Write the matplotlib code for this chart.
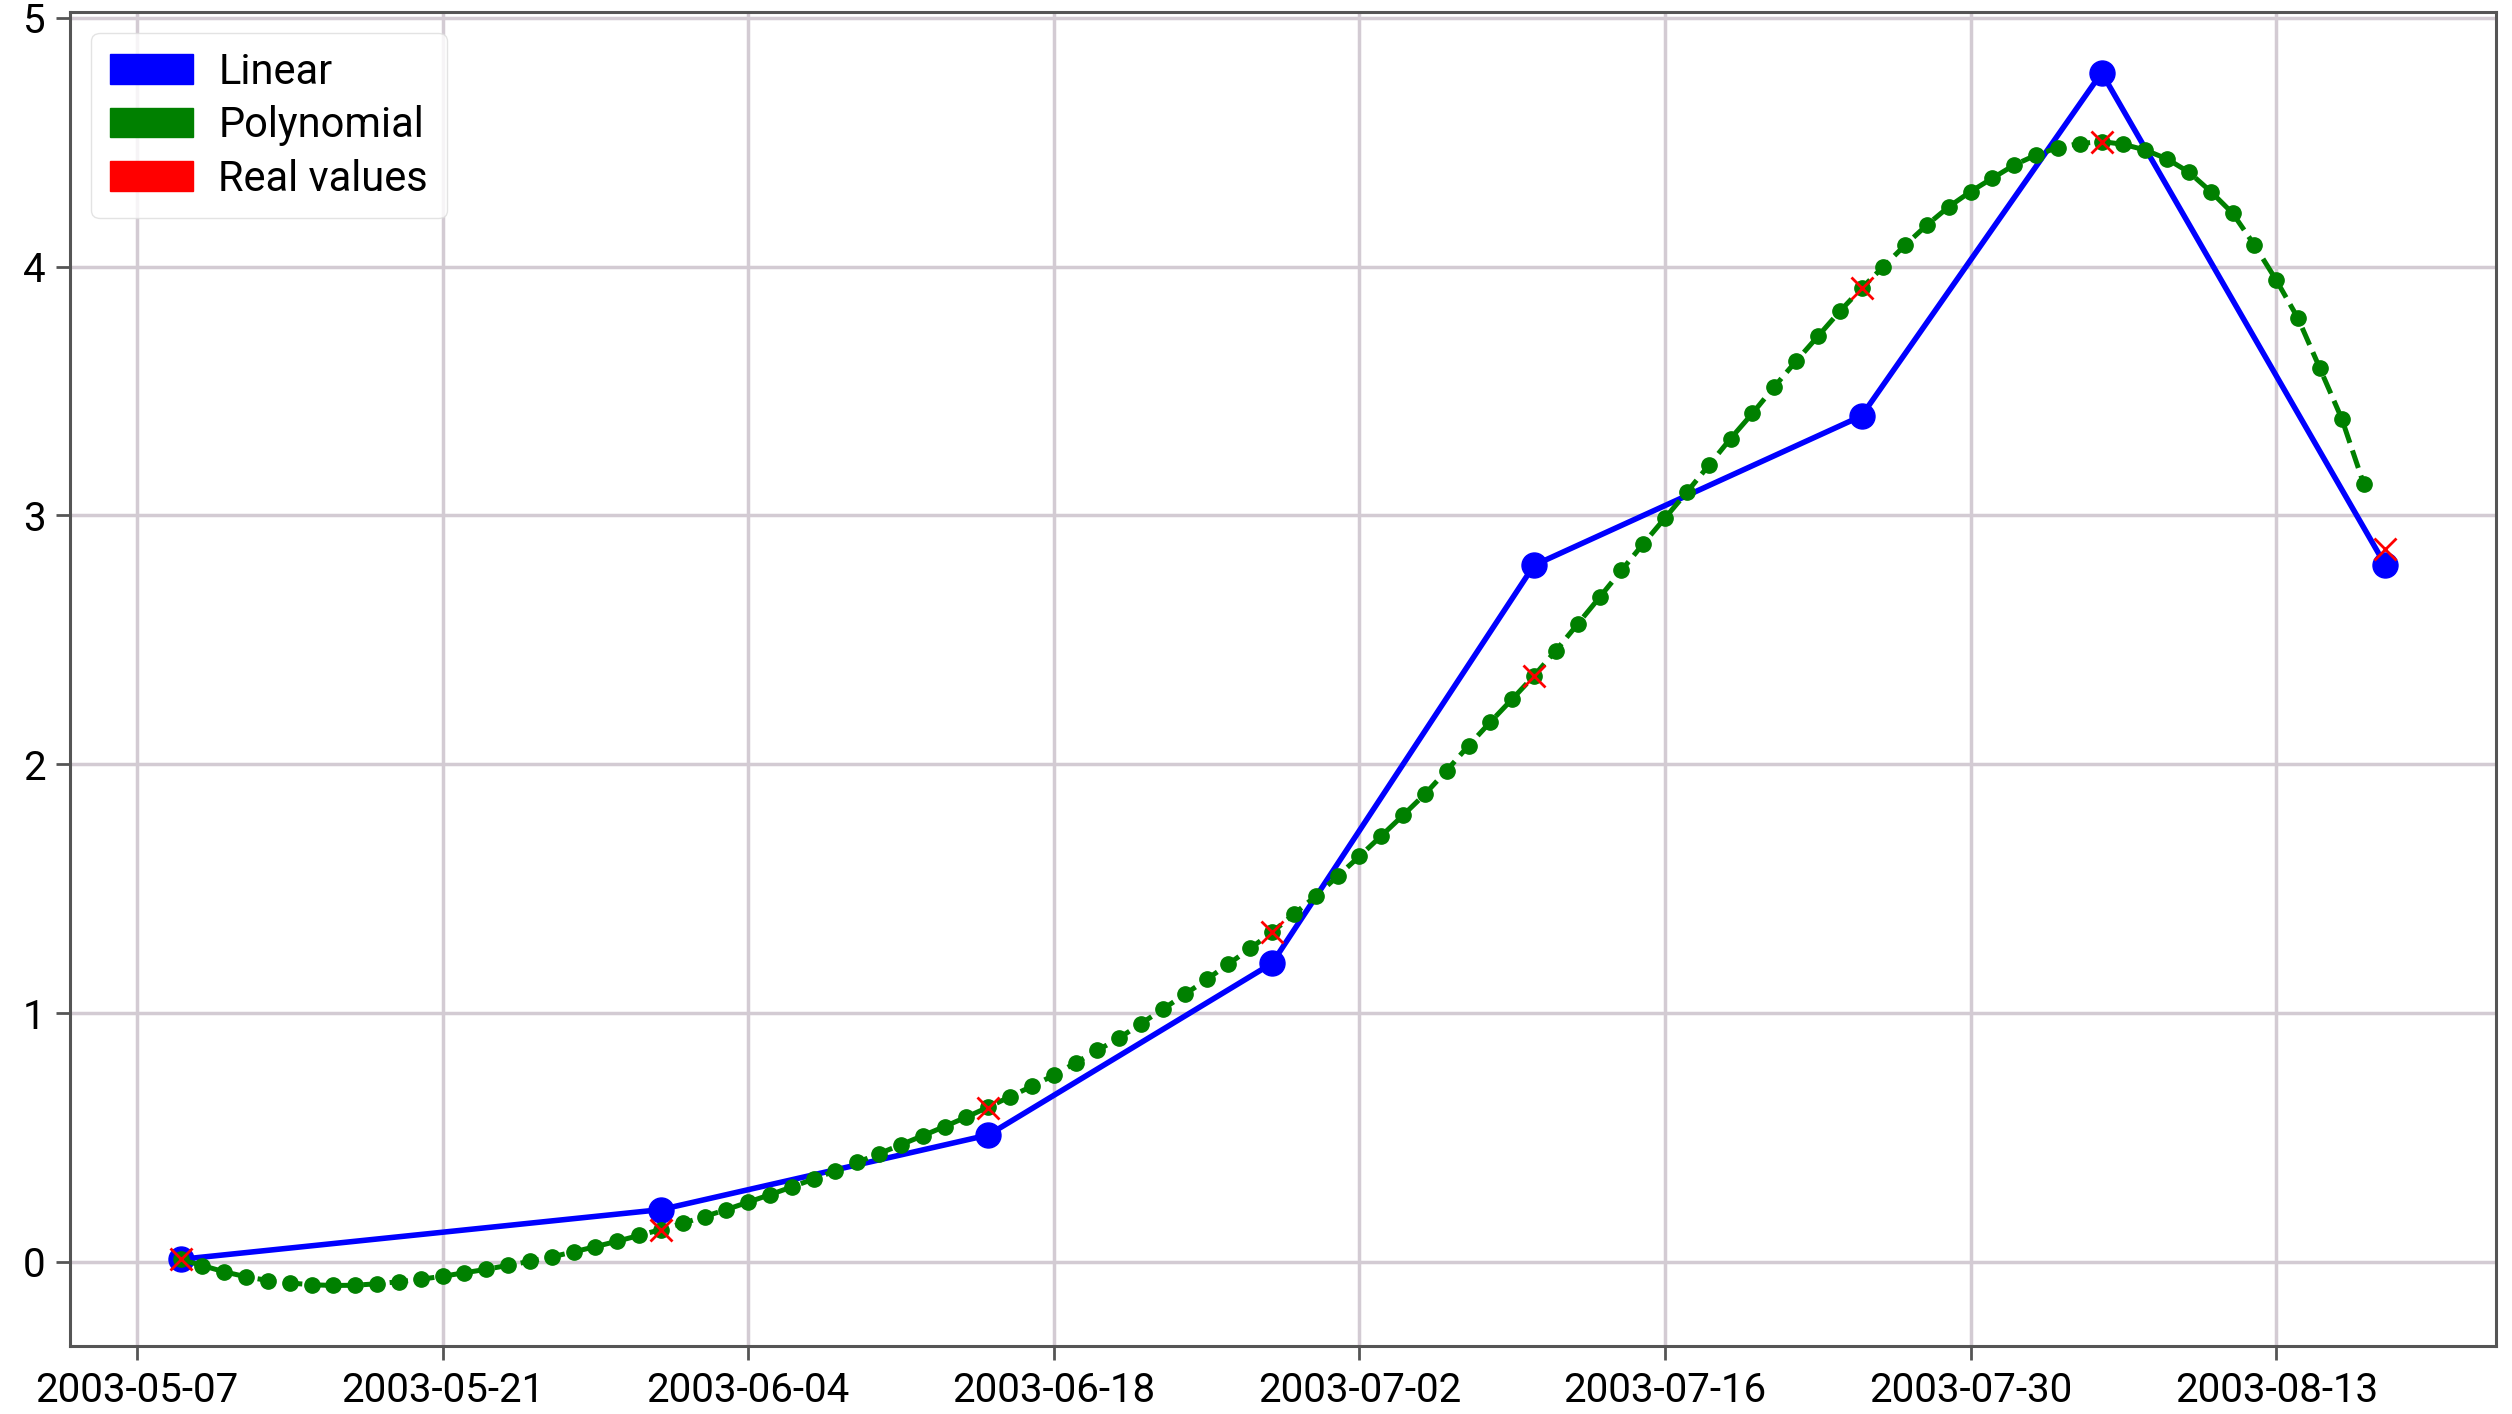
import numpy as np
import pandas as pd
import matplotlib
matplotlib.use('Agg')
import matplotlib.pyplot as plt
import matplotlib.patches as mpatches

plt.rcParams['font.family'] = ['Roboto', 'DejaVu Sans']

# ---------------- data ----------------
obs_dates = ['2003-05-09', '2003-05-31', '2003-06-15', '2003-06-28',
             '2003-07-10', '2003-07-25', '2003-08-05', '2003-08-18']
linear_vals = [0.01, 0.21, 0.51, 1.20, 2.80, 3.40, 4.78, 2.80]
real_vals = [0.01, 0.13, 0.62, 1.325, 2.356, 3.913, 4.503, 2.866]

# polynomial curve, one value per day from 2003-05-09
poly_start = '2003-05-09'
poly_vals = [
    0.010, -0.015, -0.040, -0.060, -0.075, -0.085, -0.092, -0.095, -0.094, -0.088,
    -0.080, -0.070, -0.058, -0.044, -0.030, -0.014, 0.002, 0.020, 0.040, 0.061,
    0.083, 0.106, 0.130, 0.155, 0.182, 0.210, 0.240, 0.270, 0.301, 0.333,
    0.366, 0.400, 0.435, 0.471, 0.507, 0.544, 0.582, 0.622, 0.664, 0.706,
    0.750, 0.800, 0.850, 0.900, 0.958, 1.016, 1.075, 1.135, 1.197, 1.260,
    1.325, 1.398, 1.470, 1.550, 1.630, 1.712, 1.795, 1.880, 1.975, 2.075,
    2.170, 2.262, 2.356, 2.457, 2.564, 2.671, 2.779, 2.886, 2.990, 3.094,
    3.201, 3.309, 3.410, 3.517, 3.620, 3.720, 3.820, 3.913, 4.000, 4.087,
    4.168, 4.241, 4.302, 4.356, 4.409, 4.449, 4.479, 4.495, 4.503, 4.492,
    4.469, 4.433, 4.380, 4.302, 4.215, 4.087, 3.946, 3.792, 3.591, 3.389,
    3.128,
]

tick_labels = ['2003-05-07', '2003-05-21', '2003-06-04', '2003-06-18',
               '2003-07-02', '2003-07-16', '2003-07-30', '2003-08-13']

obs_x = pd.to_datetime(obs_dates)
poly_x = pd.date_range(poly_start, periods=len(poly_vals), freq='D')

# ---------------- plot ----------------
fig = plt.figure(figsize=(25.12, 14.14), dpi=100)
ax = fig.add_axes([0.028, 0.048, 0.9655, 0.9435])

ax.plot(obs_x, linear_vals, color='blue', marker='o', markersize=18, linewidth=4)
ax.plot(poly_x, poly_vals, color='green', marker='o', markersize=11,
        linestyle='--', linewidth=3.6)
ax.plot(obs_x, real_vals, color='red', marker='x', markersize=16,
        markeredgewidth=2, linestyle='none')

ax.set_xticks(pd.to_datetime(tick_labels))
ax.set_xticklabels(tick_labels)
ax.set_yticks([0, 1, 2, 3, 4, 5])

ax.grid(True, color='#d3cbd3', linewidth=2.5)
ax.set_axisbelow(True)
for sp in ax.spines.values():
    sp.set_color('#555555')
    sp.set_linewidth(2.2)
ax.tick_params(axis='both', labelsize=29, length=10, width=2, color='#555555', pad=8)

handles = [mpatches.Patch(color='blue', label='Linear'),
           mpatches.Patch(color='green', label='Polynomial'),
           mpatches.Patch(color='red', label='Real values')]
ax.legend(handles=handles, loc='upper left', fontsize=30, framealpha=0.8,
          edgecolor='#dddddd', handletextpad=0.6, labelspacing=0.3,
          borderpad=0.45, borderaxespad=0.5)

fig.savefig('out.png', dpi=100)
